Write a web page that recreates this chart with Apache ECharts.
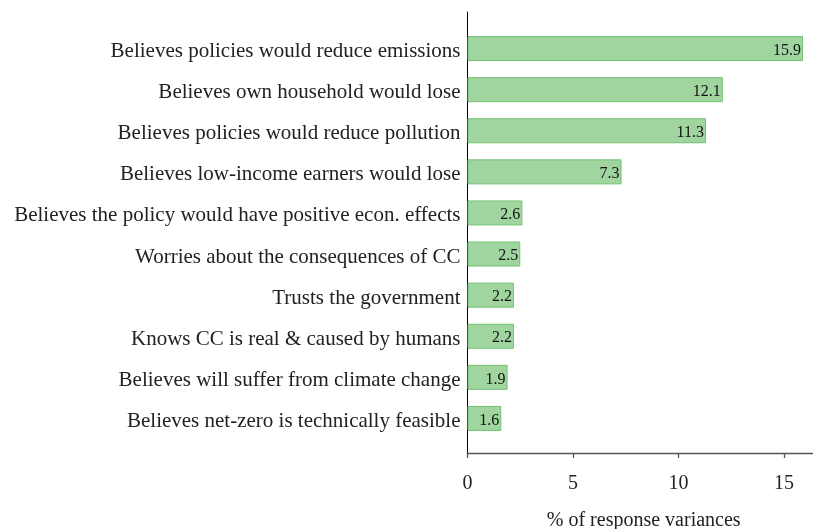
<!DOCTYPE html>
<html>
<head>
<meta charset="utf-8">
<script src="https://cdn.jsdelivr.net/npm/echarts@6/dist/echarts.min.js"></script>
<style>
html,body{margin:0;padding:0;background:#fff;}
#c{width:813px;height:529px;}
</style>
</head>
<body>
<div id="c"></div>
<script>
var categories = [
  "Believes policies would reduce emissions",
  "Believes own household would lose",
  "Believes policies would reduce pollution",
  "Believes low-income earners would lose",
  "Believes the policy would have positive econ. effects",
  "Worries about the consequences of CC",
  "Trusts the government",
  "Knows CC is real & caused by humans",
  "Believes will suffer from climate change",
  "Believes net-zero is technically feasible"
];
var values = [15.9, 12.1, 11.3, 7.3, 2.6, 2.5, 2.2, 2.2, 1.9, 1.6];
var xTicks = [0, 5, 10, 15];
var xMax = 16.7;
var xTitle = "% of response variances";

var FONT = "Liberation Serif";
var chart = echarts.init(document.getElementById('c'));
chart.setOption({
  animation: false,
  textStyle: {fontFamily: FONT},
  grid: [
    {left: 467.5, width: 352.4, top: 28, height: 411, containLabel: false, outerBoundsMode: 'none'},
    {left: 467.5, width: 352.4, top: 12, height: 441, containLabel: false, outerBoundsMode: 'none'}
  ],
  xAxis: [
    {gridIndex: 0, type: 'value', min: 0, max: xMax, show: false},
    {gridIndex: 1, type: 'value', min: 0, max: xMax, interval: 5,
     axisLine: {show: true, lineStyle: {color: '#555', width: 1.3}},
     axisTick: {show: true, length: 5, lineStyle: {color: '#555', width: 1.3}},
     splitLine: {show: false},
     axisLabel: {fontFamily: FONT, fontSize: 20, color: '#222', margin: 21,
       formatter: function(v){ return xTicks.indexOf(v) >= 0 ? String(v) : ''; }},
     name: xTitle, nameLocation: 'middle', nameGap: 58,
     nameTextStyle: {fontFamily: FONT, fontSize: 20, color: '#222'}
    }
  ],
  yAxis: [
    {gridIndex: 0, type: 'category', data: categories, inverse: true,
     axisLine: {show: false}, axisTick: {show: false},
     axisLabel: {margin: 7,
       formatter: function(v){ return '{a|' + v + '}'; },
       rich: {a: {fontFamily: FONT, fontSize: 21, color: '#222', padding: [6, 0, 0, 0]}}}},
    {gridIndex: 1, type: 'value', min: 0, max: 1, show: true,
     axisLine: {show: true, lineStyle: {color: '#000', width: 1}},
     axisTick: {show: false}, axisLabel: {show: false}, splitLine: {show: false}}
  ],
  series: [{
    type: 'bar', xAxisIndex: 0, yAxisIndex: 0,
    data: values, barWidth: 25,
    itemStyle: {color: '#a0d5a0', borderColor: '#72c272', borderWidth: 1},
    label: {show: true, position: 'insideRight', distance: 2, offset: [0, 2],
      fontFamily: FONT, fontSize: 16, color: '#111',
      formatter: function(p){ return p.value.toFixed(1); }}
  }]
});
</script>
</body>
</html>
